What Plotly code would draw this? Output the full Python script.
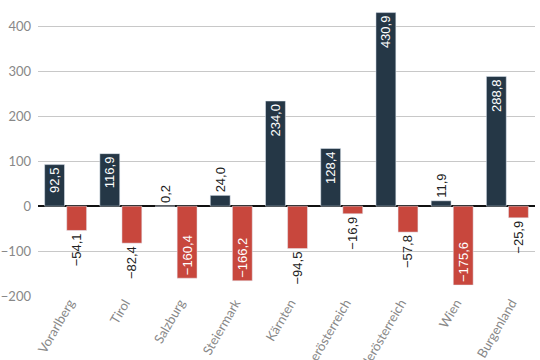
import plotly.graph_objects as go

categories = ["Vorarlberg", "Tirol", "Salzburg", "Steiermark", "Kärnten",
              "Oberösterreich", "Niederösterreich", "Wien", "Burgenland"]
series_a = [92.5, 116.9, 0.2, 24.0, 234.0, 128.4, 430.9, 11.9, 288.8]
series_b = [-54.1, -82.4, -160.4, -166.2, -94.5, -16.9, -57.8, -175.6, -25.9]

def fmt(v):
    s = f"{abs(v):.1f}".replace(".", ",")
    return ("\u2212" + s) if v < 0 else s

pos_a = ["inside", "inside", "outside", "outside", "inside", "inside", "inside", "outside", "inside"]
pos_b = ["outside", "outside", "inside", "inside", "outside", "outside", "outside", "inside", "outside"]

dark = "#253746"
red = "#c8473d"

fig = go.Figure()
fig.add_trace(go.Bar(x=categories, y=series_a, marker_color=dark,
                     text=[fmt(v) for v in series_a], textposition=pos_a,
                     textangle=-90,
                     insidetextanchor="end",
                     insidetextfont=dict(color="white", size=13, family="Liberation Sans"),
                     outsidetextfont=dict(color="#222", size=13, family="Liberation Sans"),
                     cliponaxis=False))
fig.add_trace(go.Bar(x=categories, y=series_b, marker_color=red,
                     text=[fmt(v) for v in series_b], textposition=pos_b,
                     textangle=-90,
                     insidetextanchor="end",
                     insidetextfont=dict(color="white", size=13, family="Liberation Sans"),
                     outsidetextfont=dict(color="#222", size=13, family="Liberation Sans"),
                     cliponaxis=False))

fig.update_layout(
    width=540, height=360,
    margin=dict(l=38, r=5, t=4, b=64),
    barmode="group", bargap=0.2, bargroupgap=0.1,
    showlegend=False,
    plot_bgcolor="white", paper_bgcolor="white",
    uniformtext=dict(minsize=13, mode="show"),
    font=dict(family="Lato", color="#777", size=13),
)
fig.update_xaxes(tickangle=-60, showgrid=False, ticks="", automargin=False,
                 ticklabelshift=4, ticklabelstandoff=-4,
                 tickfont=dict(family="Lato", color="#888", size=13))
fig.update_yaxes(range=[-200, 450], tickvals=[-200, -100, 0, 100, 200, 300, 400],
                 showgrid=True, gridcolor="#c8c8c8", gridwidth=1,
                 zeroline=True, zerolinecolor="#111", zerolinewidth=1.5,
                 automargin=False, ticks="", ticklabelstandoff=6,
                 tickfont=dict(family="Lato", color="#888", size=13))

fig.write_html("out.html", config={"displayModeBar": False},
               post_script="document.body.style.margin='0';document.body.style.overflow='hidden';")
